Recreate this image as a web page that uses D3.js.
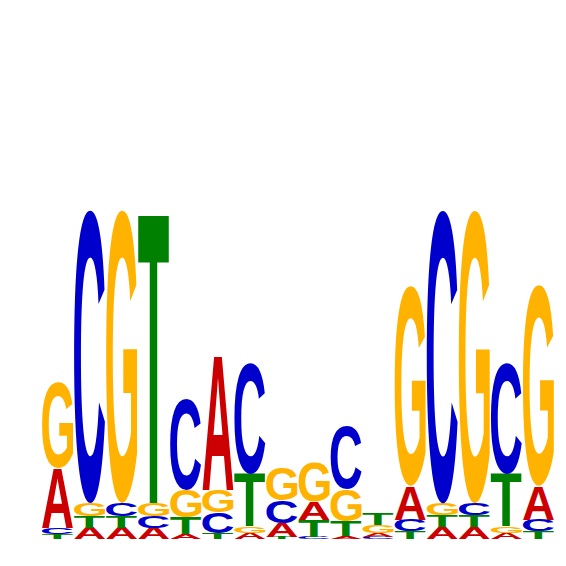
<!DOCTYPE html>
<html>
<head>
<meta charset="utf-8">
<script src="https://cdn.jsdelivr.net/npm/d3@7"></script>
<style>
html,body{margin:0;padding:0;background:#fff;}
svg{display:block;}
</style>
</head>
<body>
<svg id="chart" width="566" height="566"></svg>
<script>
// Sequence logo data: information content (bits) per letter per position
const positions = d3.range(1, 17);
const letters = ["A", "C", "G", "T"];
const A = [0.227, 0.042, 0.042, 0.042, 0.019, 0.510, 0.023, 0.053, 0.068, 0.011, 0.015, 0.129, 0.044, 0.044, 0.023, 0.129];
const C = [0.023, 1.108, 0.049, 0.045, 0.344, 0.079, 0.416, 0.083, 0.008, 0.238, 0.008, 0.042, 1.108, 0.046, 0.416, 0.042];
const G = [0.325, 0.049, 1.108, 0.049, 0.102, 0.083, 0.026, 0.125, 0.151, 0.121, 0.030, 0.756, 0.046, 1.108, 0.026, 0.760];
const T = [0.019, 0.045, 0.045, 1.104, 0.064, 0.023, 0.200, 0.008, 0.064, 0.057, 0.045, 0.030, 0.045, 0.045, 0.200, 0.030];
const colors = {A: "#cc0000", C: "#0000cc", G: "#ffb300", T: "#008000"};

const series = {A, C, G, T};
const svg = d3.select("#chart");

const x = d3.scaleBand().domain(positions).range([42, 554]).paddingInner(0.03).paddingOuter(0);
const y = d3.scaleLinear().domain([0, 2]).range([539, 10]);

const fontSize = 100;
const font = "bold " + fontSize + "px 'Liberation Sans', Arial, sans-serif";
const ctx = document.createElement("canvas").getContext("2d");
ctx.font = font;
const metrics = {};
letters.forEach(l => {
  const m = ctx.measureText(l);
  metrics[l] = {
    left: m.actualBoundingBoxLeft,
    right: m.actualBoundingBoxRight,
    ascent: m.actualBoundingBoxAscent,
    descent: m.actualBoundingBoxDescent
  };
});

const stacks = positions.map((p, i) => {
  const col = letters.map(l => ({letter: l, value: series[l][i]}))
    .sort((a, b) => a.value - b.value);
  let acc = 0;
  col.forEach(d => { d.y0 = acc; acc += d.value; d.y1 = acc; d.pos = p; });
  return col;
});

const g = svg.append("g");
stacks.forEach(col => {
  col.forEach(d => {
    const m = metrics[d.letter];
    const x0 = x(d.pos), w = x.bandwidth();
    const yTop = y(d.y1), h = y(d.y0) - y(d.y1);
    if (h <= 0) return;
    const sx = w / (m.left + m.right);
    const sy = h / (m.ascent + m.descent);
    g.append("text")
      .attr("x", 0).attr("y", 0)
      .attr("font-family", "'Liberation Sans', Arial, sans-serif")
      .attr("font-weight", "bold")
      .attr("font-size", fontSize)
      .attr("fill", colors[d.letter])
      .attr("transform", `translate(${x0},${yTop}) scale(${sx},${sy}) translate(${m.left},${m.ascent})`)
      .text(d.letter);
  });
});
</script>
</body>
</html>
